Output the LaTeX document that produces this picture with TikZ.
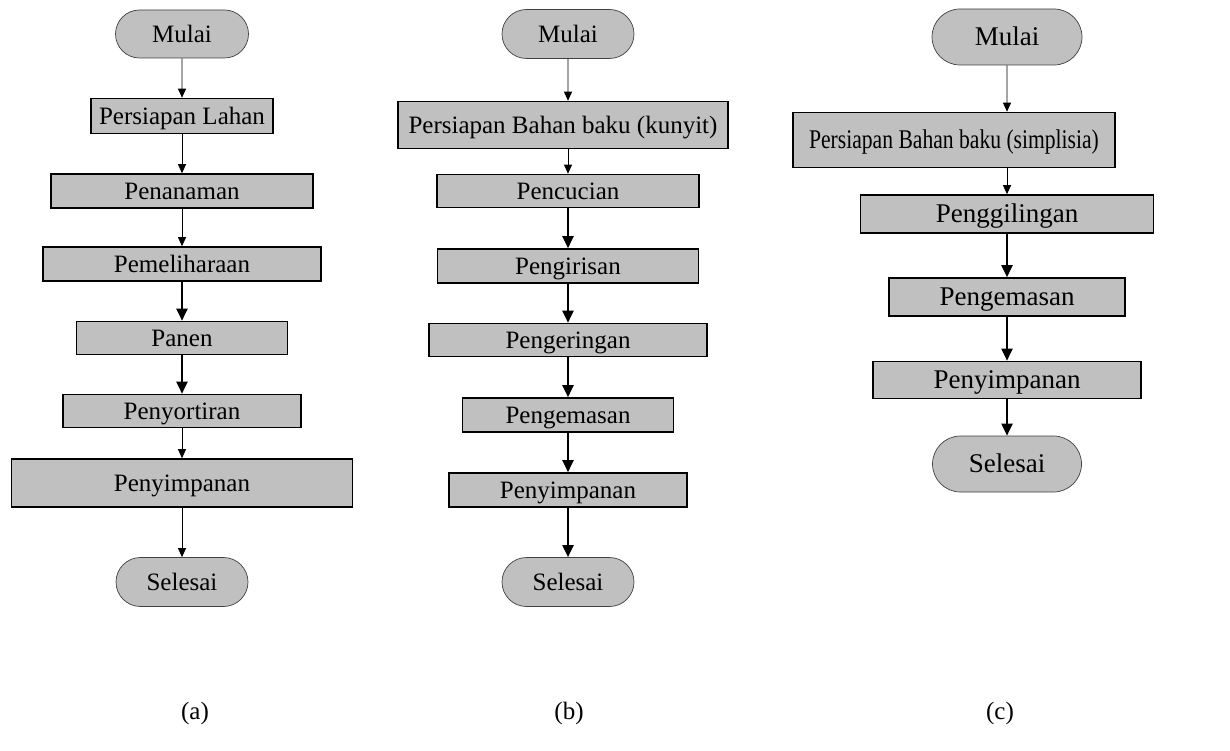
\documentclass[tikz,border=0pt]{standalone}
\usepackage{fontspec}
\usepackage{graphicx}
\setmainfont{Liberation Serif}
\usetikzlibrary{shapes.misc,arrows.meta}

\definecolor{boxgray}{RGB}{192,192,192}

\tikzset{
  proc/.style={draw=black, line width=1.6pt, fill=boxgray, inner sep=0pt},
  term/.style={rounded rectangle, draw=black!75, line width=0.7pt, fill=boxgray, inner sep=0pt},
  flowthin/.style={line width=0.8pt, -{Triangle[length=9pt,width=8pt]}},
  flowbold/.style={line width=2pt, -{Triangle[length=12pt,width=11pt]}},
}

\begin{document}
\begin{tikzpicture}[x=1pt, y=-1pt]
  \def\fa{\fontsize{25}{30}\selectfont}
  \def\fc{\fontsize{27}{32}\selectfont}
  \useasboundingbox (0,0) rectangle (1230,751);

  % ----- (a) -----
  \begin{scope}[font=\fa, nodes={text height=16.5pt, text depth=0pt}]
    \node[term, minimum width=133pt, minimum height=48pt] (ma)  at (182,34)  {Mulai};
    \node[proc, minimum width=182pt, minimum height=35pt] (pla) at (182,116) {Persiapan Lahan};
    \node[proc, minimum width=262pt, minimum height=34pt] (tna) at (182,191) {Penanaman};
    \node[proc, minimum width=278pt, minimum height=34pt] (pha) at (182,264) {Pemeliharaan};
    \node[proc, minimum width=211pt, minimum height=33pt] (pna) at (182,338) {Panen};
    \node[proc, minimum width=238pt, minimum height=33pt] (soa) at (182,411) {Penyortiran};
    \node[proc, minimum width=341pt, minimum height=48pt] (sia) at (182,483) {Penyimpanan};
    \node[term, minimum width=132pt, minimum height=49pt] (sea) at (182,582) {Selesai};
    \draw[flowthin] (ma) -- (pla);
    \draw[flowthin] (pla) -- (tna);
    \draw[flowthin] (tna) -- (pha);
    \draw[flowbold] (pha) -- (pna);
    \draw[flowbold] (pna) -- (soa);
    \draw[flowthin] (soa) -- (sia);
    \draw[flowthin] (sia) -- (sea);
    \node (la) at (195,711) {(a)};
  \end{scope}

  % ----- (b) -----
  \begin{scope}[font=\fa, nodes={text height=16.5pt, text depth=0pt}]
    \node[term, minimum width=132pt, minimum height=49pt] (mb)  at (568,34)  {Mulai};
    \node[proc, minimum width=330pt, minimum height=47pt] (pbb) at (563,125) {Persiapan Bahan baku (kunyit)};
    \node[proc, minimum width=262pt, minimum height=33pt] (ccb) at (568,191) {Pencucian};
    \node[proc, minimum width=261pt, minimum height=34pt] (irb) at (568,266) {Pengirisan};
    \node[proc, minimum width=278pt, minimum height=33pt] (krb) at (568,340) {Pengeringan};
    \node[proc, minimum width=211pt, minimum height=34pt] (emb) at (568,415) {Pengemasan};
    \node[proc, minimum width=238pt, minimum height=34pt] (sib) at (568,490) {Penyimpanan};
    \node[term, minimum width=132pt, minimum height=49pt] (seb) at (568,582) {Selesai};
    \draw[flowthin] (mb) -- (mb.south |- pbb.north);
    \draw[flowthin] (ccb.north |- pbb.south) -- (ccb);
    \draw[flowbold] (ccb) -- (irb);
    \draw[flowbold] (irb) -- (krb);
    \draw[flowbold] (krb) -- (emb);
    \draw[flowbold] (emb) -- (sib);
    \draw[flowbold] (sib) -- (seb);
    \node (lb) at (569,711) {(b)};
  \end{scope}

  % ----- (c) -----
  \begin{scope}[font=\fc, nodes={text height=17.9pt, text depth=0pt}]
    \node[term, minimum width=150pt, minimum height=56pt] (mc)  at (1007,37)  {Mulai};
    \node[proc, minimum width=322pt, minimum height=55pt] (pbc) at (954,140)
      {\scalebox{0.8}[1]{Persiapan Bahan baku (simplisia)}};
    \node[proc, minimum width=293pt, minimum height=38pt] (gic) at (1007,214) {Penggilingan};
    \node[proc, minimum width=236pt, minimum height=38pt] (emc) at (1007,297) {Pengemasan};
    \node[proc, minimum width=268pt, minimum height=37pt] (sic) at (1007,380) {Penyimpanan};
    \node[term, minimum width=149pt, minimum height=56pt] (sec) at (1007,464) {Selesai};
    \draw[flowthin] (mc) -- (mc.south |- pbc.north);
    \draw[flowthin] (gic.north |- pbc.south) -- (gic);
    \draw[flowbold] (gic) -- (emc);
    \draw[flowbold] (emc) -- (sic);
    \draw[flowbold] (sic) -- (sec);
  \end{scope}
  \node[font=\fa, text height=16.5pt, text depth=0pt] (lc) at (1000,711) {(c)};
\end{tikzpicture}
\end{document}
